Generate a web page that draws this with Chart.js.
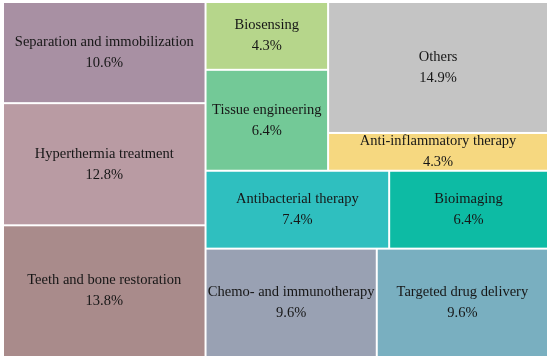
<!DOCTYPE html>
<html>
<head>
<meta charset="utf-8">
<script src="https://cdn.jsdelivr.net/npm/chart.js@4"></script>
<style>
  html, body { margin: 0; padding: 0; background: #fff; }
  #wrap { width: 550px; height: 360px; }
</style>
</head>
<body>
<div id="wrap"><canvas id="grafico"></canvas></div>
<script>
// === Data ===
const categorias = [
  'Separation and immobilization', 'Hyperthermia treatment', 'Teeth and bone restoration',
  'Biosensing', 'Tissue engineering', 'Others', 'Anti-inflammatory therapy',
  'Antibacterial therapy', 'Bioimaging', 'Chemo- and immunotherapy', 'Targeted drug delivery'
];
const percentuais = [10.6, 12.8, 13.8, 4.3, 6.4, 14.9, 4.3, 7.4, 6.4, 9.6, 9.6];
const cores = [
  '#a890a3', '#b99ba3', '#a98b8b',
  '#b6d68b', '#73c997', '#c4c4c4', '#f6d880',
  '#2fbfbf', '#0dbba4', '#99a1b3', '#79afc0'
];

// structure of the treemap: 'h' splits left-to-right, 'v' splits top-to-bottom
const estrutura = { dir: 'h', filhos: [
  { dir: 'v', filhos: [0, 1, 2] },
  { dir: 'v', filhos: [
    { dir: 'h', filhos: [
      { dir: 'v', filhos: [3, 4] },
      { dir: 'v', filhos: [5, 6] }
    ] },
    { dir: 'h', filhos: [7, 8] },
    { dir: 'h', filhos: [9, 10] }
  ] }
] };

function soma(no) {
  if (typeof no === 'number') return percentuais[no];
  return no.filhos.reduce((acc, f) => acc + soma(f), 0);
}

// returns cells in data units (0..100 on both axes)
function calcularCelulas(no, x0, y0, x1, y1, saida) {
  if (typeof no === 'number') {
    saida.push({ idx: no, x0, y0, x1, y1 });
    return saida;
  }
  const total = soma(no);
  let pos = no.dir === 'h' ? x0 : y0;
  no.filhos.forEach(f => {
    const frac = soma(f) / total;
    if (no.dir === 'h') {
      const w = (x1 - x0) * frac;
      calcularCelulas(f, pos, y0, pos + w, y1, saida);
      pos += w;
    } else {
      const h = (y1 - y0) * frac;
      calcularCelulas(f, x0, pos, x1, pos + h, saida);
      pos += h;
    }
  });
  return saida;
}

const celulas = calcularCelulas(estrutura, 0, 0, 100, 100, []);

// === Treemap plugin ===
const treemapPlugin = {
  id: 'treemap',
  afterDatasetsDraw(chart) {
    const { ctx, scales: { x, y } } = chart;
    ctx.save();
    celulas.forEach(c => {
      const px0 = x.getPixelForValue(c.x0);
      const px1 = x.getPixelForValue(c.x1);
      const py0 = y.getPixelForValue(c.y0);
      const py1 = y.getPixelForValue(c.y1);
      const gap = 1;
      ctx.fillStyle = cores[c.idx];
      ctx.fillRect(px0 + gap, py0 + gap, px1 - px0 - 2 * gap, py1 - py0 - 2 * gap);

      const cx = (px0 + px1) / 2;
      const cy = (py0 + py1) / 2;
      ctx.fillStyle = '#161616';
      ctx.font = '14.5px "Liberation Serif", "Times New Roman", serif';
      ctx.textAlign = 'center';
      ctx.textBaseline = 'middle';
      ctx.fillText(categorias[c.idx], cx, cy - 10.5);
      ctx.fillText(percentuais[c.idx].toFixed(1) + '%', cx, cy + 10.5);
    });
    ctx.restore();
  }
};

new Chart(document.getElementById('grafico'), {
  type: 'scatter',
  data: { datasets: [{ data: [] }] },
  options: {
    responsive: true,
    maintainAspectRatio: false,
    animation: false,
    layout: { padding: { left: 3, top: 2, right: 2, bottom: 3 } },
    plugins: { legend: { display: false }, tooltip: { enabled: false } },
    scales: {
      x: { type: 'linear', min: 0, max: 100, display: false },
      y: { type: 'linear', min: 0, max: 100, reverse: true, display: false }
    }
  },
  plugins: [treemapPlugin]
});
</script>
</body>
</html>
